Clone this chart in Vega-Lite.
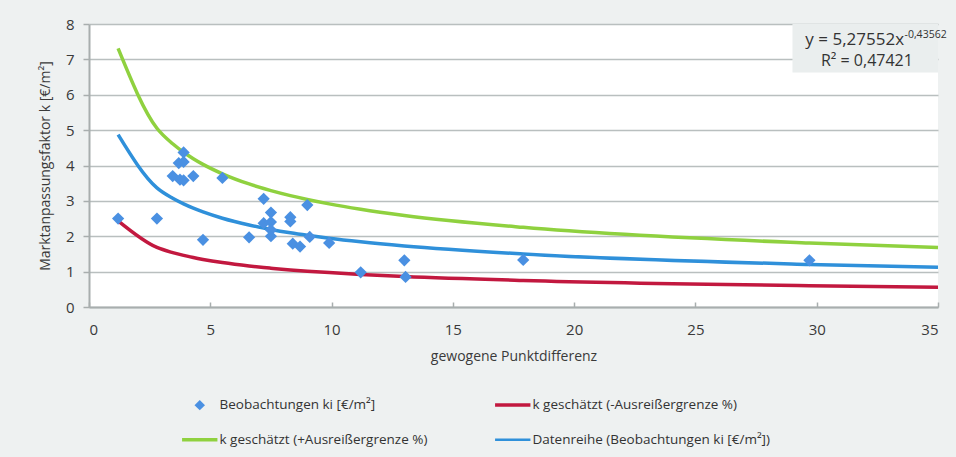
{
  "$schema": "https://vega.github.io/schema/vega-lite/v6.json",
  "width": 849,
  "height": 283,
  "autosize": {"type": "none"},
  "padding": {"left": 89, "top": 24, "right": 18, "bottom": 150},
  "background": "#eef1f1",
  "config": {
    "view": {"fill": "#ffffff", "stroke": null},
    "font": "Open Sans",
    "axis": {"labelFont": "Open Sans", "titleFont": "Open Sans", "labelColor": "#3a3a3a", "titleColor": "#3a3a3a", "titleFontWeight": "normal"},
    "legend": {"labelFont": "Open Sans", "labelFontSize": 13.5, "labelColor": "#333333"}
  },
  "datasets": {
    "pts": [
      {"x": 1.2, "y": 2.5}, {"x": 2.8, "y": 2.5}, {"x": 3.45, "y": 3.7}, {"x": 3.7, "y": 4.07},
      {"x": 3.9, "y": 4.37}, {"x": 3.9, "y": 4.1}, {"x": 3.75, "y": 3.6}, {"x": 3.9, "y": 3.58},
      {"x": 4.3, "y": 3.7}, {"x": 4.7, "y": 1.9}, {"x": 5.5, "y": 3.65}, {"x": 6.6, "y": 1.97},
      {"x": 7.2, "y": 3.06}, {"x": 7.2, "y": 2.37}, {"x": 7.5, "y": 2.67}, {"x": 7.5, "y": 2.4},
      {"x": 7.5, "y": 2.18}, {"x": 7.5, "y": 2.0}, {"x": 8.3, "y": 2.54}, {"x": 8.3, "y": 2.42},
      {"x": 8.4, "y": 1.79}, {"x": 8.7, "y": 1.71}, {"x": 9.0, "y": 2.88}, {"x": 9.1, "y": 1.98},
      {"x": 9.9, "y": 1.81}, {"x": 11.2, "y": 0.98}, {"x": 13.0, "y": 1.32}, {"x": 13.05, "y": 0.85},
      {"x": 17.9, "y": 1.33}, {"x": 29.7, "y": 1.32}
    ],
    "lines": [
      {"s": "k geschätzt (-Ausreißergrenze %)", "x": 1.2, "y": 2.436},
      {"s": "k geschätzt (-Ausreißergrenze %)", "x": 2.8, "y": 1.684},
      {"s": "k geschätzt (-Ausreißergrenze %)", "x": 3.45, "y": 1.538},
      {"s": "k geschätzt (-Ausreißergrenze %)", "x": 3.9, "y": 1.458},
      {"s": "k geschätzt (-Ausreißergrenze %)", "x": 4.3, "y": 1.397},
      {"s": "k geschätzt (-Ausreißergrenze %)", "x": 4.7, "y": 1.344},
      {"s": "k geschätzt (-Ausreißergrenze %)", "x": 5.5, "y": 1.255},
      {"s": "k geschätzt (-Ausreißergrenze %)", "x": 6.6, "y": 1.159},
      {"s": "k geschätzt (-Ausreißergrenze %)", "x": 7.2, "y": 1.116},
      {"s": "k geschätzt (-Ausreißergrenze %)", "x": 7.5, "y": 1.097},
      {"s": "k geschätzt (-Ausreißergrenze %)", "x": 8.3, "y": 1.049},
      {"s": "k geschätzt (-Ausreißergrenze %)", "x": 9.0, "y": 1.013},
      {"s": "k geschätzt (-Ausreißergrenze %)", "x": 9.9, "y": 0.972},
      {"s": "k geschätzt (-Ausreißergrenze %)", "x": 11.2, "y": 0.921},
      {"s": "k geschätzt (-Ausreißergrenze %)", "x": 13.0, "y": 0.863},
      {"s": "k geschätzt (-Ausreißergrenze %)", "x": 17.9, "y": 0.751},
      {"s": "k geschätzt (-Ausreißergrenze %)", "x": 29.7, "y": 0.602},
      {"s": "k geschätzt (-Ausreißergrenze %)", "x": 35, "y": 0.561},
      {"s": "k geschätzt (+Ausreißergrenze %)", "x": 1.2, "y": 7.309},
      {"s": "k geschätzt (+Ausreißergrenze %)", "x": 2.8, "y": 5.053},
      {"s": "k geschätzt (+Ausreißergrenze %)", "x": 3.45, "y": 4.614},
      {"s": "k geschätzt (+Ausreißergrenze %)", "x": 3.9, "y": 4.374},
      {"s": "k geschätzt (+Ausreißergrenze %)", "x": 4.3, "y": 4.192},
      {"s": "k geschätzt (+Ausreißergrenze %)", "x": 4.7, "y": 4.032},
      {"s": "k geschätzt (+Ausreißergrenze %)", "x": 5.5, "y": 3.766},
      {"s": "k geschätzt (+Ausreißergrenze %)", "x": 6.6, "y": 3.478},
      {"s": "k geschätzt (+Ausreißergrenze %)", "x": 7.2, "y": 3.349},
      {"s": "k geschätzt (+Ausreißergrenze %)", "x": 7.5, "y": 3.29},
      {"s": "k geschätzt (+Ausreißergrenze %)", "x": 8.3, "y": 3.148},
      {"s": "k geschätzt (+Ausreißergrenze %)", "x": 9.0, "y": 3.039},
      {"s": "k geschätzt (+Ausreißergrenze %)", "x": 9.9, "y": 2.915},
      {"s": "k geschätzt (+Ausreißergrenze %)", "x": 11.2, "y": 2.763},
      {"s": "k geschätzt (+Ausreißergrenze %)", "x": 13.0, "y": 2.589},
      {"s": "k geschätzt (+Ausreißergrenze %)", "x": 17.9, "y": 2.252},
      {"s": "k geschätzt (+Ausreißergrenze %)", "x": 29.7, "y": 1.807},
      {"s": "k geschätzt (+Ausreißergrenze %)", "x": 35, "y": 1.682},
      {"s": "Datenreihe (Beobachtungen ki [€/m²])", "x": 1.2, "y": 4.873},
      {"s": "Datenreihe (Beobachtungen ki [€/m²])", "x": 2.8, "y": 3.369},
      {"s": "Datenreihe (Beobachtungen ki [€/m²])", "x": 3.45, "y": 3.076},
      {"s": "Datenreihe (Beobachtungen ki [€/m²])", "x": 3.9, "y": 2.916},
      {"s": "Datenreihe (Beobachtungen ki [€/m²])", "x": 4.3, "y": 2.794},
      {"s": "Datenreihe (Beobachtungen ki [€/m²])", "x": 4.7, "y": 2.688},
      {"s": "Datenreihe (Beobachtungen ki [€/m²])", "x": 5.5, "y": 2.51},
      {"s": "Datenreihe (Beobachtungen ki [€/m²])", "x": 6.6, "y": 2.319},
      {"s": "Datenreihe (Beobachtungen ki [€/m²])", "x": 7.2, "y": 2.233},
      {"s": "Datenreihe (Beobachtungen ki [€/m²])", "x": 7.5, "y": 2.193},
      {"s": "Datenreihe (Beobachtungen ki [€/m²])", "x": 8.3, "y": 2.098},
      {"s": "Datenreihe (Beobachtungen ki [€/m²])", "x": 9.0, "y": 2.026},
      {"s": "Datenreihe (Beobachtungen ki [€/m²])", "x": 9.9, "y": 1.943},
      {"s": "Datenreihe (Beobachtungen ki [€/m²])", "x": 11.2, "y": 1.842},
      {"s": "Datenreihe (Beobachtungen ki [€/m²])", "x": 13.0, "y": 1.726},
      {"s": "Datenreihe (Beobachtungen ki [€/m²])", "x": 17.9, "y": 1.501},
      {"s": "Datenreihe (Beobachtungen ki [€/m²])", "x": 29.7, "y": 1.204},
      {"s": "Datenreihe (Beobachtungen ki [€/m²])", "x": 35, "y": 1.121}
    ],
    "box": [{"x": 29.0, "x2": 35, "y": 6.63, "y2": 8}],
    "eq1": [{"x": 33.6, "y": 7.41, "t": "y = 5,27552x"}],
    "eq2": [{"x": 33.62, "y": 7.6, "t": "-0,43562"}],
    "eq3": [{"x": 32.07, "y": 6.82, "t": "R² = 0,47421"}]
  },
  "encoding": {
    "x": {"field": "x", "type": "quantitative", "scale": {"domain": [0, 35], "nice": false},
      "axis": {"title": "gewogene Punktdifferenz", "values": [0, 5, 10, 15, 20, 25, 30, 35], "grid": false, "domainColor": "#a8aeae", "domainWidth": 2, "tickColor": "#a8aeae", "tickSize": -5, "tickWidth": 1.5, "labelPadding": 20, "titlePadding": 12, "labelFontSize": 15, "titleFontSize": 14}},
    "y": {"field": "y", "type": "quantitative", "scale": {"domain": [0, 8], "nice": false},
      "axis": {"title": "Marktanpassungsfaktor k [€/m²]", "values": [0, 1, 2, 3, 4, 5, 6, 7, 8], "labelOverlap": false, "gridColor": "#b9bfbf", "gridWidth": 1.5, "domainColor": "#a8aeae", "domainWidth": 2, "tickColor": "#a8aeae", "tickSize": 6, "tickWidth": 1.5, "labelPadding": 9, "titlePadding": 13, "labelFontSize": 15, "titleFontSize": 14}}
  },
  "layer": [
    {
      "data": {"name": "box"},
      "mark": {"type": "rect", "fill": "#eaeeee"},
      "encoding": {
        "x2": {"field": "x2"},
        "y2": {"field": "y2"}
      }
    },
    {
      "data": {"name": "eq1"},
      "mark": {"type": "text", "align": "right", "baseline": "alphabetic", "fontSize": 17, "color": "#333333"},
      "encoding": {"text": {"field": "t"}}
    },
    {
      "data": {"name": "eq2"},
      "mark": {"type": "text", "align": "left", "baseline": "alphabetic", "fontSize": 10.5, "color": "#333333"},
      "encoding": {"text": {"field": "t"}}
    },
    {
      "data": {"name": "eq3"},
      "mark": {"type": "text", "align": "center", "baseline": "alphabetic", "fontSize": 16, "color": "#333333"},
      "encoding": {"text": {"field": "t"}}
    },
    {
      "data": {"name": "lines"},
      "mark": {"type": "line", "interpolate": "monotone"},
      "encoding": {
        "color": {"field": "s", "type": "nominal", "title": null,
          "scale": {"domain": ["Beobachtungen ki [€/m²]", "k geschätzt (-Ausreißergrenze %)", "k geschätzt (+Ausreißergrenze %)", "Datenreihe (Beobachtungen ki [€/m²])"],
                    "range": ["#4a90e2", "#c2183f", "#8fd13f", "#2f90da"]},
          "legend": {"orient": "none", "direction": "horizontal", "legendX": 104, "legendY": 374, "columns": 2, "columnPadding": 60, "rowPadding": 20, "labelLimit": 400, "labelOffset": 13,
            "encode": {"symbols": {"update": {
              "size": {"signal": "datum.value === 'Beobachtungen ki [€/m²]' ? 110 : 1250"},
              "strokeWidth": {"signal": "datum.value === 'Beobachtungen ki [€/m²]' ? 0 : (datum.value === 'Datenreihe (Beobachtungen ki [€/m²])' ? 2.5 : 3.5)"},
              "stroke": {"scale": "color", "field": "value"},
              "fill": {"scale": "color", "field": "value"},
              "opacity": {"value": 1}
            }}}}},
        "strokeWidth": {"field": "s", "type": "nominal", "legend": null,
          "scale": {"domain": ["k geschätzt (-Ausreißergrenze %)", "k geschätzt (+Ausreißergrenze %)", "Datenreihe (Beobachtungen ki [€/m²])"], "range": [3.5, 3.5, 2]}}
      }
    },
    {
      "data": {"name": "pts"},
      "transform": [{"calculate": "'Beobachtungen ki [€/m²]'", "as": "s"}],
      "mark": {"type": "point", "filled": true, "opacity": 1, "size": 150},
      "encoding": {
        "color": {"field": "s", "type": "nominal", "title": null,
          "legend": {"orient": "none", "direction": "horizontal", "legendX": 104, "legendY": 374, "columns": 2, "columnPadding": 60, "rowPadding": 20, "labelLimit": 400, "labelOffset": 13,
            "encode": {"symbols": {"update": {
              "size": {"signal": "datum.value === 'Beobachtungen ki [€/m²]' ? 110 : 1250"},
              "strokeWidth": {"signal": "datum.value === 'Beobachtungen ki [€/m²]' ? 0 : (datum.value === 'Datenreihe (Beobachtungen ki [€/m²])' ? 2.5 : 3.5)"},
              "stroke": {"scale": "color", "field": "value"},
              "fill": {"scale": "color", "field": "value"},
              "opacity": {"value": 1}
            }}}}},
        "shape": {"field": "s", "type": "nominal", "title": null,
          "scale": {"domain": ["Beobachtungen ki [€/m²]", "k geschätzt (-Ausreißergrenze %)", "k geschätzt (+Ausreißergrenze %)", "Datenreihe (Beobachtungen ki [€/m²])"],
                    "range": ["diamond", "stroke", "stroke", "stroke"]}}
      }
    }
  ]
}
